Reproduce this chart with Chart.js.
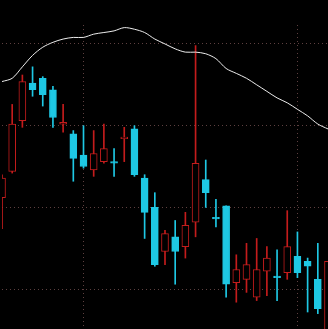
<!DOCTYPE html>
<html>
<head>
<meta charset="utf-8">
<script src="https://cdn.jsdelivr.net/npm/chart.js@4"></script>
<style>
  html, body { margin: 0; padding: 0; background: #000; }
  #wrap { width: 328px; height: 329px; }
</style>
</head>
<body>
<div id="wrap"><canvas id="kline"></canvas></div>
<script>
const dates = [
  '2023-06-19', '2023-06-20', '2023-06-21', '2023-06-26', '2023-06-27', '2023-06-28', '2023-06-29', '2023-06-30',
  '2023-07-03', '2023-07-04', '2023-07-05', '2023-07-06', '2023-07-07',
  '2023-07-10', '2023-07-11', '2023-07-12', '2023-07-13', '2023-07-14',
  '2023-07-17', '2023-07-18', '2023-07-19', '2023-07-20', '2023-07-21',
  '2023-07-24', '2023-07-25', '2023-07-26', '2023-07-27', '2023-07-28',
  '2023-07-31', '2023-08-01', '2023-08-02', '2023-08-03', '2023-08-04'
];
const opens  = [10.56, 10.72, 11.03, 11.26, 11.29, 11.22, 11.01, 10.95, 10.82, 10.73, 10.78, 10.78, 10.92, 10.98, 10.68, 10.50, 10.23, 10.32, 10.26, 10.41, 10.67, 10.44, 10.51, 10.04, 10.06, 9.95, 10.11, 10.08, 10.10, 10.20, 10.17, 10.06, 9.70];
const highs  = [10.70, 11.13, 11.31, 11.36, 11.30, 11.24, 11.13, 10.97, 11.00, 10.97, 11.01, 10.86, 10.99, 11.00, 10.70, 10.59, 10.36, 10.42, 10.47, 11.49, 10.79, 10.55, 10.51, 10.21, 10.28, 10.31, 10.26, 10.24, 10.48, 10.35, 10.19, 10.28, 10.17];
const lows   = [10.37, 10.71, 10.99, 11.18, 11.12, 10.99, 10.96, 10.66, 10.74, 10.69, 10.77, 10.69, 10.78, 10.69, 10.31, 10.14, 10.15, 10.03, 10.19, 10.32, 10.50, 10.38, 9.95, 9.92, 9.98, 9.93, 9.96, 9.93, 10.06, 10.07, 9.86, 9.85, 9.68];
const closes = [10.68, 11.01, 11.27, 11.22, 11.19, 11.05, 11.02, 10.80, 10.75, 10.83, 10.86, 10.77, 10.93, 10.70, 10.47, 10.15, 10.34, 10.23, 10.39, 10.77, 10.59, 10.43, 10.03, 10.12, 10.15, 10.12, 10.19, 10.07, 10.26, 10.10, 10.14, 9.88, 10.17];
const ma     = [11.27, 11.29, 11.36, 11.43, 11.48, 11.51, 11.53, 11.54, 11.54, 11.56, 11.57, 11.58, 11.60, 11.59, 11.57, 11.53, 11.50, 11.47, 11.45, 11.45, 11.44, 11.41, 11.35, 11.32, 11.29, 11.25, 11.21, 11.17, 11.14, 11.10, 11.06, 11.01, 10.98];

const yMin = 9.756;
const yMax = 11.616;

const upColor = '#c41c1c';
const downColor = '#1ec8e4';
const gridColor = '#5e4040';

const isUp = closes.map((c, i) => c >= opens[i]);
const candleColors = isUp.map(u => u ? upColor : downColor);

new Chart(document.getElementById('kline'), {
  type: 'bar',
  data: {
    labels: dates,
    datasets: [
      {
        type: 'line',
        data: ma,
        borderColor: '#ececec',
        borderWidth: 1,
        pointRadius: 0,
        tension: 0.3,
        order: 1
      },
      {
        data: opens.map((o, i) => [o, closes[i]]),
        backgroundColor: isUp.map(u => u ? '#000' : downColor),
        borderColor: candleColors,
        borderWidth: 1,
        borderSkipped: false,
        barThickness: 7,
        grouped: false,
        order: 2
      },
      {
        data: lows.map((l, i) => [l, highs[i]]),
        backgroundColor: candleColors,
        barThickness: 1,
        grouped: false,
        order: 3
      }
    ]
  },
  options: {
    responsive: true,
    maintainAspectRatio: false,
    animation: false,
    layout: { padding: { left: 2, top: 25, right: 0, bottom: 0 } },
    plugins: { legend: { display: false }, tooltip: { enabled: false } },
    scales: {
      x: {
        offset: false,
        ticks: { display: false, autoSkip: false },
        grid: {
          offset: false,
          drawTicks: false,
          color: ctx => {
            const i = ctx.index;
            if (i > 0 && dates[i].slice(5, 7) !== dates[i - 1].slice(5, 7)) return gridColor;
            return 'rgba(0,0,0,0)';
          }
        },
        border: { display: false, dash: [1, 3] }
      },
      y: {
        min: yMin,
        max: yMax,
        ticks: { display: false, stepSize: 0.5, includeBounds: false },
        grid: { drawTicks: false, color: gridColor },
        border: { display: false, dash: [1, 3] }
      }
    }
  }
});
</script>
</body>
</html>
